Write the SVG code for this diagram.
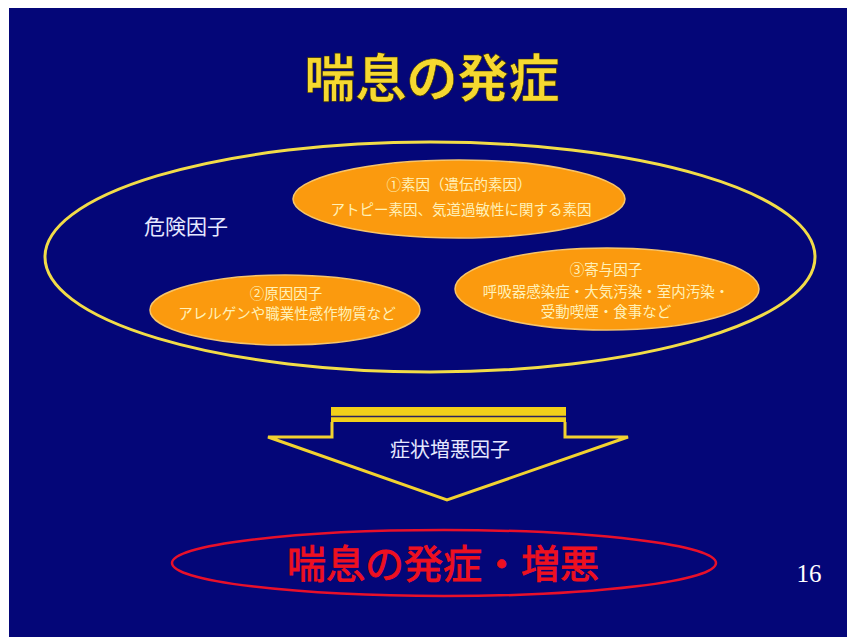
<svg xmlns="http://www.w3.org/2000/svg" width="847" height="637" viewBox="0 0 847 637">
<style>
.jp{font-family:"Liberation Sans","Noto Sans CJK JP",sans-serif;}
.org{fill:#fb9a0e;stroke:#f7c56a;stroke-width:1.5;}
.ot{font-size:14.5px;fill:#fff1b8;text-anchor:middle;}
.wt{fill:#e6e8ff;text-anchor:middle;}
</style>
<rect x="0" y="0" width="847" height="637" fill="#ffffff"/>
<rect x="9" y="8" width="838" height="629" fill="#040678"/>
<g id="title">
<text class="jp" x="432" y="97" font-size="51" font-weight="bold" fill="#f6d830" stroke="#3a3000" stroke-width="0.6" text-anchor="middle">喘息の発症</text>
</g>
<g id="risk">
<ellipse cx="430" cy="257" rx="385" ry="115" fill="none" stroke="#f2dc48" stroke-width="3"/>
<text class="jp wt" x="186" y="234" font-size="21">危険因子</text>
</g>
<g id="factor1">
<ellipse class="org" cx="459" cy="199" rx="166" ry="39"/>
<text class="jp ot" x="459" y="190">①素因（遺伝的素因）</text>
<text class="jp ot" x="461" y="215">アトピー素因、気道過敏性に関する素因</text>
</g>
<g id="factor2">
<ellipse class="org" cx="285" cy="310" rx="135" ry="35"/>
<text class="jp ot" x="286" y="299">②原因因子</text>
<text class="jp ot" x="287" y="319">アレルゲンや職業性感作物質など</text>
</g>
<g id="factor3">
<ellipse class="org" cx="607" cy="289" rx="152" ry="41"/>
<text class="jp ot" x="606" y="275">③寄与因子</text>
<text class="jp ot" x="606" y="297">呼吸器感染症・大気汚染・室内汚染・</text>
<text class="jp ot" x="606" y="317">受動喫煙・食事など</text>
</g>
<g id="connectors">
<g id="arrow">
<rect x="331" y="407" width="235" height="15" fill="#f2cf1a"/>
<line x1="331" y1="416.5" x2="566" y2="416.5" stroke="#2a2060" stroke-width="1.5"/>
<path d="M332,422 V437 H268 L447,500 L628,437 H565 V422" fill="none" stroke="#f2d230" stroke-width="3" stroke-linejoin="miter"/>
<text class="jp wt" x="450" y="457" font-size="20">症状増悪因子</text>
</g>
</g>
<g id="result">
<ellipse cx="444" cy="563" rx="272" ry="33" fill="none" stroke="#e8102a" stroke-width="2.5"/>
<text class="jp" x="443" y="578" font-size="39" fill="#ee1020" stroke="#ee1020" stroke-width="0.9" text-anchor="middle">喘息の発症・増悪</text>
</g>
<text x="809" y="582" font-family="'Liberation Serif',serif" font-size="25" fill="#ffffff" text-anchor="middle">16</text>
</svg>
